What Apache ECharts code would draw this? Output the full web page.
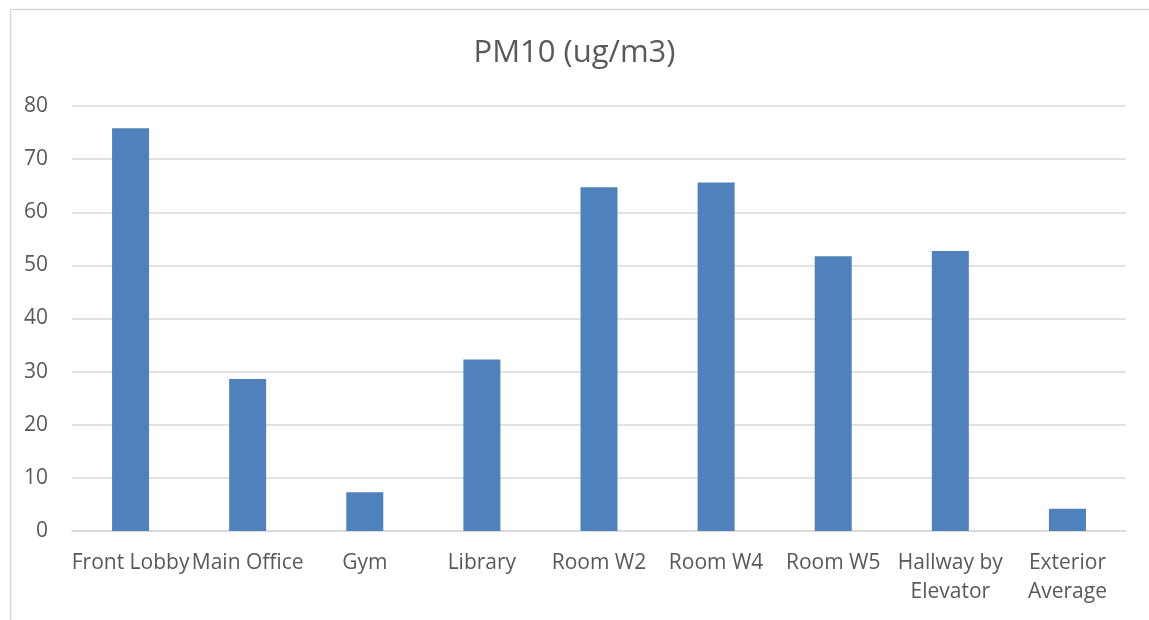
<!DOCTYPE html>
<html>
<head>
<meta charset="utf-8">
<script src="https://cdn.jsdelivr.net/npm/echarts@6/dist/echarts.min.js"></script>
<style>
  html, body { margin: 0; padding: 0; background: #fff; }
  #main { width: 1149px; height: 620px; }
</style>
</head>
<body>
<div id="main"></div>
<script>
const categories = ["Front Lobby", "Main Office", "Gym", "Library", "Room W2", "Room W4", "Room W5", "Hallway by\nElevator", "Exterior\nAverage"];
const pm10Values = [75.8, 28.6, 7.3, 32.3, 64.7, 65.6, 51.7, 52.7, 4.2];
const yTicks = { min: 0, max: 80, interval: 10 };

const chart = echarts.init(document.getElementById("main"));

const option = {
  animation: false,
  textStyle: { fontFamily: "'Open Sans', sans-serif" },
  graphic: [
    {
      type: "rect",
      left: 8,
      top: 7,
      shape: { width: 1200, height: 700 },
      style: { fill: "none", stroke: "#d9d9d9", lineWidth: 1.5 },
      silent: true
    }
  ],
  title: {
    text: "PM10 (ug/m3)",
    left: "center",
    top: 33,
    textStyle: { fontSize: 31, fontWeight: "normal", color: "#595959", fontFamily: "'Open Sans', sans-serif" }
  },
  grid: { left: 72, right: 23, top: 106, bottom: 89 },
  xAxis: {
    type: "category",
    data: categories,
    axisLine: { lineStyle: { color: "#d9d9d9", width: 1.5 } },
    axisTick: { show: false },
    axisLabel: {
      interval: 0,
      color: "#595959",
      fontSize: 21,
      margin: 18,
      lineHeight: 29
    }
  },
  yAxis: {
    type: "value",
    min: yTicks.min,
    max: yTicks.max,
    interval: yTicks.interval,
    axisLine: { show: false },
    axisTick: { show: false },
    axisLabel: { color: "#595959", fontSize: 21, margin: 24 },
    splitLine: { lineStyle: { color: "#d9d9d9", width: 1.5 } }
  },
  series: [
    {
      type: "bar",
      data: pm10Values,
      barWidth: 37,
      itemStyle: { color: "#4f81bd" }
    }
  ]
};

chart.setOption(option);
</script>
</body>
</html>
